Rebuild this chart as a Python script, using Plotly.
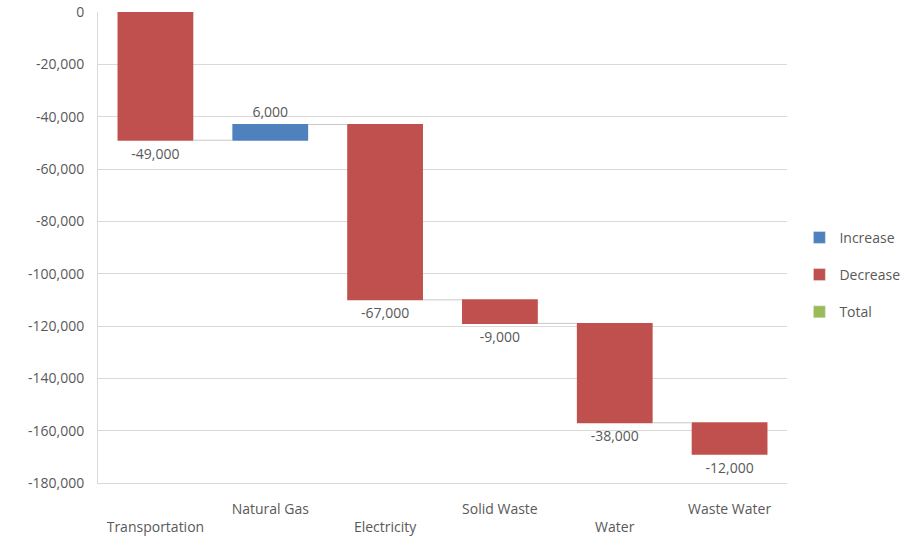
import plotly.graph_objects as go

categories = ["Transportation", "Natural Gas", "Electricity", "Solid Waste", "Water", "Waste Water"]
changes = [-49000, 6000, -67000, -9000, -38000, -12000]
text_labels = ["-49,000", "6,000", "-67,000", "-9,000", "-38,000", "-12,000"]
y_ticks = [0, -20000, -40000, -60000, -80000, -100000, -120000, -140000, -160000, -180000]
y_tick_text = ["0", "-20,000", "-40,000", "-60,000", "-80,000", "-100,000",
               "-120,000", "-140,000", "-160,000", "-180,000"]
legend_names = ["Increase", "Decrease", "Total"]
legend_colors = ["#4F81BD", "#C0504D", "#9BBB59"]

# staggered tick labels (lower row for even index)
tick_text = [("<br>" + c) if i % 2 == 0 else c for i, c in enumerate(categories)]

FONT = "Open Sans, Noto Sans, sans-serif"
GREY = "#595959"

fig = go.Figure()
fig.add_trace(go.Waterfall(
    x=categories,
    y=changes,
    measure=["relative"] * len(changes),
    text=text_labels,
    textposition="outside",
    textfont=dict(family=FONT, size=14, color=GREY),
    increasing=dict(marker=dict(color=legend_colors[0])),
    decreasing=dict(marker=dict(color=legend_colors[1])),
    totals=dict(marker=dict(color=legend_colors[2])),
    connector=dict(line=dict(color="#c8c8c8", width=1)),
    width=0.66,
    showlegend=False,
    hoverinfo="skip",
    cliponaxis=False,
))

for i, (name, col) in enumerate(zip(legend_names, legend_colors)):
    fig.add_trace(go.Bar(x=[None], y=[None], name=name, marker_color=col,
                         legendgroup=name, showlegend=True))

fig.update_layout(
    width=924, height=541,
    margin=dict(l=98, r=137, t=12, b=58, autoexpand=False),
    paper_bgcolor="white", plot_bgcolor="white",
    font=dict(family=FONT, size=14, color=GREY),
    legend=dict(x=1.018, y=0.442, xanchor="left", yanchor="middle",
                traceorder="grouped", tracegroupgap=16,
                font=dict(family=FONT, size=14, color=GREY),
                itemwidth=30),
    xaxis=dict(
        tickmode="array", tickvals=categories, ticktext=tick_text,
        showgrid=False, showline=True, linecolor="#d9d9d9", linewidth=1,
        tickfont=dict(family=FONT, size=14, color=GREY),
        ticklabelstandoff=13, automargin=False,
    ),
    yaxis=dict(
        range=[-180000, 0], tickmode="array", tickvals=y_ticks, ticktext=y_tick_text,
        showgrid=True, gridcolor="#d9d9d9", gridwidth=1,
        zeroline=False, showline=True, linecolor="#d9d9d9", linewidth=1,
        tickfont=dict(family=FONT, size=14, color=GREY),
        ticklabelstandoff=10, automargin=False,
    ),
)

fig.write_html("out.html",
               config={"displayModeBar": False},
               post_script="document.body.style.margin='0';document.body.style.padding='0';")
